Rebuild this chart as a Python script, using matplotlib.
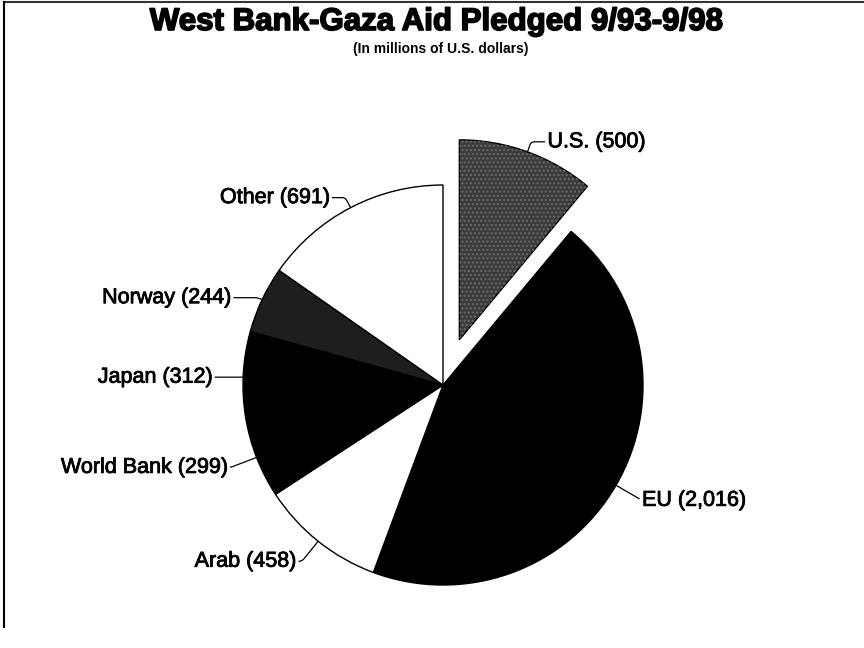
import numpy as np
import matplotlib
matplotlib.use('Agg')
import matplotlib.pyplot as plt
import matplotlib.patheffects as pe
from matplotlib.patches import Wedge
from matplotlib.lines import Line2D

# Aid pledged, millions of US dollars (clockwise from top)
donors = ['U.S.', 'EU', 'Arab', 'World Bank', 'Japan', 'Norway', 'Other']
pledged = [500, 2016, 458, 299, 312, 244, 691]
shades = ['#3c3c3c', '#000000', '#ffffff', '#000000', '#000000', '#1e1e1e', '#ffffff']
explode = [0.24, 0, 0, 0, 0, 0, 0]

plt.rcParams['font.family'] = ['Liberation Sans', 'DejaVu Sans']

fig = plt.figure(figsize=(8.64, 6.48), dpi=100)
fig.patch.set_facecolor('white')

ax = fig.add_axes([0, 0, 1, 1])
wedges, _ = ax.pie(pledged, colors=shades, explode=explode, startangle=90,
                   counterclock=False, radius=1,
                   wedgeprops=dict(edgecolor='black', linewidth=1.0))
# axes in units of pie radius (200 px), pie centred at (443, 385) px
ax.set_xlim(-443 / 200, (864 - 443) / 200)
ax.set_ylim(-(648 - 385) / 200, 385 / 200)
ax.set_aspect('equal')
ax.axis('off')

# speckled texture on the U.S. slice
w = wedges[0]
ax.add_patch(Wedge(w.center, w.r, w.theta1, w.theta2, facecolor='none',
                   edgecolor='#6a6a6a', hatch='....', linewidth=0))

# label offsets (pixels) from the slice's mid-arc point
offsets = [(20, 10), (26, -15), (-22, -20), (-29, -10), (-31, -3), (-31, 2), (-21, 10)]
thick = [pe.withStroke(linewidth=0.6, foreground='black')]

for wd, name, val, (dx, dy) in zip(wedges, donors, pledged, offsets):
    mid = np.deg2rad((wd.theta1 + wd.theta2) / 2)
    cx, cy = wd.center
    px, py = cx + wd.r * np.cos(mid), cy + wd.r * np.sin(mid)
    left = dx < 0
    ax.annotate(f'{name} ({val:,})', xy=(px, py), xytext=(dx, dy),
                textcoords='offset pixels', fontsize=15.5,
                ha='right' if left else 'left', va='center', path_effects=thick,
                arrowprops=dict(arrowstyle='-', lw=0.9, color='black',
                                shrinkA=0, shrinkB=0,
                                relpos=(1, 0.5) if left else (0, 0.5),
                                connectionstyle=f'angle,angleA=0,angleB={np.rad2deg(mid):.0f},rad=3'))

fig.text(0.505, 1 - 22 / 648, 'West Bank-Gaza Aid Pledged 9/93-9/98',
         ha='center', va='center', fontsize=22.5, fontweight='bold',
         path_effects=[pe.withStroke(linewidth=1.2, foreground='black')])
fig.text(0.51, 1 - 49 / 648, '(In millions of U.S. dollars)',
         ha='center', va='center', fontsize=10, fontweight='bold')

# scanned frame: top and left edges
fig.add_artist(Line2D([4 / 864, 1], [1 - 2 / 648, 1 - 2 / 648], color='#333333', lw=1.5))
fig.add_artist(Line2D([4 / 864, 4 / 864], [1 - 2 / 648, 1 - 627 / 648], color='black', lw=1.5))

fig.savefig('out.png', dpi=100, facecolor='white')
